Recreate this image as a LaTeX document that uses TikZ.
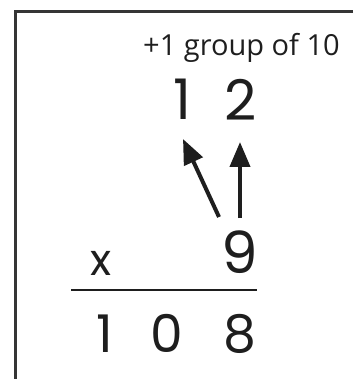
\documentclass[tikz,border=0pt]{standalone}
\usepackage{fontspec}
\setmainfont{Poppins}
\newfontfamily\labelfont{Open Sans}
\usetikzlibrary{arrows.meta}
\definecolor{ink}{HTML}{1E1E1E}
\tikzset{
  x=1pt, y=-1pt,
  frame/.style={line width=3pt, draw=ink!90},
  digit/.style={inner sep=0pt, anchor=center, text=ink, font=\fontsize{#1}{#1}\selectfont},
  carry/.style={line width=4pt, draw=ink, -{Triangle[length=25pt,width=20pt]}},
  rule/.style={line width=2.5pt, draw=ink}
}
\begin{document}
\begin{tikzpicture}
\useasboundingbox (0,0) rectangle (353,379);
\draw[frame] (353,12) -- (15,12) -- (15,379);
\node[inner sep=0pt, anchor=base west, text=ink, font=\labelfont\fontsize{29}{29}\selectfont] (lbl) at (143,56) {+1 group of 10};
\node[digit=56] (c1) at (182,99.5) {1};
\node[digit=56] (c2) at (241,99.5) {2};
\node[digit=44] (times) at (101,263.5) {x};
\node[digit=58] (m9) at (240,252.5) {9};
\node[digit=52] (p1) at (105,333.5) {1};
\node[digit=52] (p0) at (167,333.5) {0};
\node[digit=52] (p8) at (240,333.5) {8};
\coordinate (a1s) at (219,217);
\coordinate (a1e) at (183,139);
\coordinate (a2s) at (240,218);
\coordinate (a2e) at (240,142);
\draw[carry] (a1s) -- (a1e);
\draw[carry] (a2s) -- (a2e);
\coordinate (rl) at (71,290);
\coordinate (rr) at (257,290);
\draw[rule] (rl) -- (rr);
\end{tikzpicture}
\end{document}
